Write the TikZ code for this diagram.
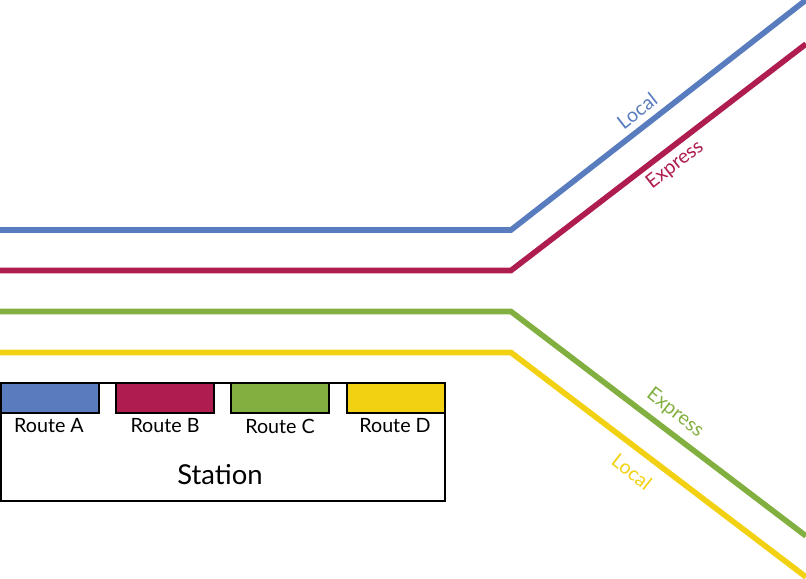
\documentclass[tikz,border=0pt]{standalone}
\usepackage{fontspec}
\setmainfont{Lato}
\definecolor{routea}{RGB}{88,124,190}
\definecolor{routeb}{RGB}{175,29,80}
\definecolor{routec}{RGB}{130,176,64}
\definecolor{routed}{RGB}{241,209,18}
\tikzset{
  track/.style={line width=3.2pt,line join=miter},
  bay/.style={draw=black,line width=1pt,minimum width=1.96cm,minimum height=.6cm,inner sep=0pt},
  baylabel/.style={font=\fontsize{11.2}{13}\selectfont,inner sep=0pt},
  tracklabel/.style={font=\fontsize{11.2}{13}\selectfont,inner sep=0pt},
}
\begin{document}
\begin{tikzpicture}[x=.02cm,y=-.02cm]
\useasboundingbox (0,0) rectangle (806,579);
\coordinate (a0) at (0,230); \coordinate (a1) at (511,230); \coordinate (a2) at (806,0);
\coordinate (b0) at (0,270.5); \coordinate (b1) at (511,270.5); \coordinate (b2) at (806,44);
\coordinate (c0) at (0,311.5); \coordinate (c1) at (511,311.5); \coordinate (c2) at (806,536);
\coordinate (d0) at (0,352.5); \coordinate (d1) at (511,352.5); \coordinate (d2) at (806,577);
\draw[track,routea] (a0) -- (a1) -- (a2);
\draw[track,routeb] (b0) -- (b1) -- (b2);
\draw[track,routec] (c0) -- (c1) -- (c2);
\draw[track,routed] (d0) -- (d1) -- (d2);
% station with its four bays
\node[draw=black,line width=1pt,minimum width=8.88cm,minimum height=2.36cm,inner sep=0pt] (station) at (223,442) {};
\node[bay,fill=routea] (bayA) at (50,398) {};
\node[bay,fill=routeb] (bayB) at (165,398) {};
\node[bay,fill=routec] (bayC) at (280,398) {};
\node[bay,fill=routed] (bayD) at (396,398) {};
\node[baylabel] (labA) at (49,426) {Route A};
\node[baylabel] (labB) at (165,426) {Route B};
\node[baylabel] (labC) at (280,426) {Route C};
\node[baylabel] (labD) at (395,426) {Route D};
\node[font=\fontsize{15.6}{18}\selectfont,inner sep=0pt] (name) at (220,475) {Station};
% track names
\node[tracklabel,routea,rotate=38] (localA) at (637,111) {Local};
\node[tracklabel,routeb,rotate=38] (expressB) at (675,165) {Express};
\node[tracklabel,routec,rotate=-38] (expressC) at (675,413) {Express};
\node[tracklabel,routed,rotate=-38] (localD) at (632,472) {Local};
\end{tikzpicture}
\end{document}
